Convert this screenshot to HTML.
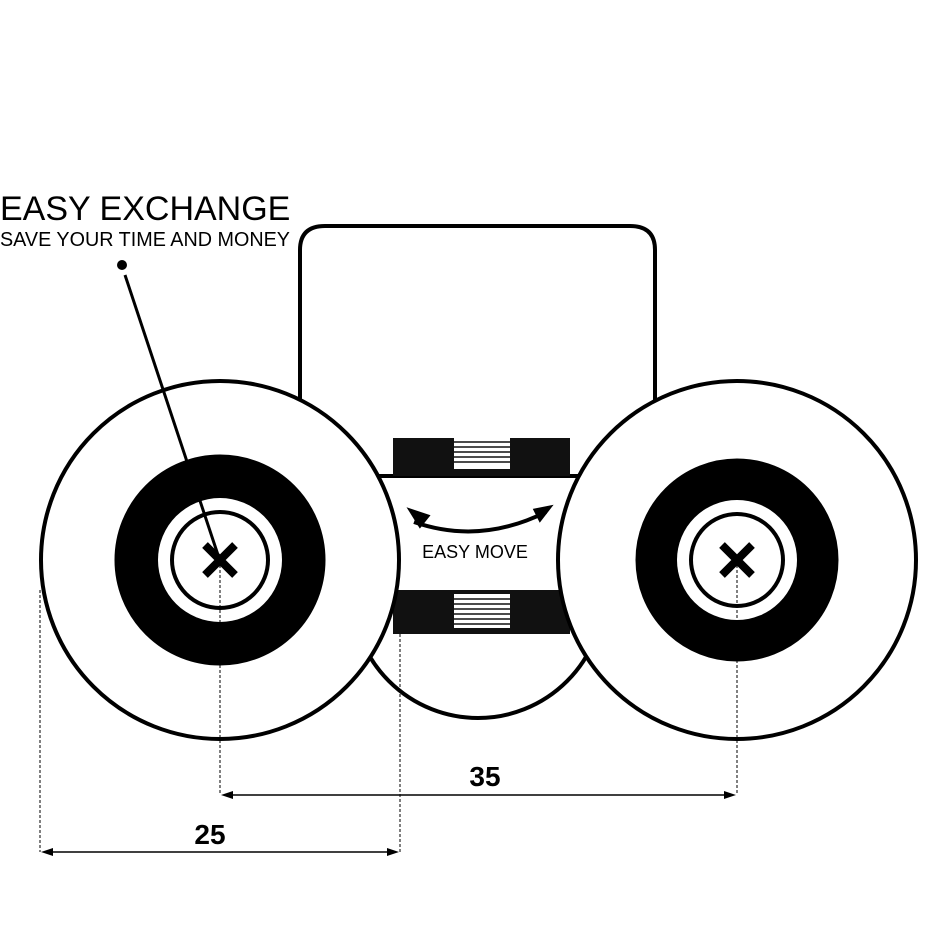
<!DOCTYPE html>
<html><head><style>body{margin:0;background:#fff}svg{display:block}</style></head><body>
<svg width="952" height="950" viewBox="0 0 952 950" xmlns="http://www.w3.org/2000/svg" font-family="Liberation Sans, sans-serif">
<rect width="952" height="950" fill="#fff"/>
<path d="M300 420 V250 Q300 226 325 226 H630 Q655 226 655 250 V420" fill="#fff" stroke="#000" stroke-width="4"/>
<path d="M352 476 H604 V592 A126 126 0 0 1 352 592 Z" fill="#fff" stroke="#000" stroke-width="4"/>
<rect x="393" y="438" width="177" height="38" fill="#111"/>
<rect x="393" y="590" width="177" height="44" fill="#111"/>
<g fill="#fff"><rect x="454" y="437" width="56" height="32"/><rect x="454" y="594" width="56" height="34"/></g>
<g stroke="#111" stroke-width="1.5">
<line x1="454" y1="442" x2="510" y2="442"/><line x1="454" y1="447" x2="510" y2="447"/><line x1="454" y1="452" x2="510" y2="452"/><line x1="454" y1="457" x2="510" y2="457"/><line x1="454" y1="462" x2="510" y2="462"/>
<line x1="454" y1="599" x2="510" y2="599"/><line x1="454" y1="604" x2="510" y2="604"/><line x1="454" y1="609" x2="510" y2="609"/><line x1="454" y1="614" x2="510" y2="614"/><line x1="454" y1="619" x2="510" y2="619"/><line x1="454" y1="624" x2="510" y2="624"/>
</g>
<path d="M414 522 Q480 545 546 512" fill="none" stroke="#000" stroke-width="4"/>
<path d="M410 510 L420 526 L428 516 Z M550 507 L540 520 L535 510 Z" fill="#000" stroke="#000" stroke-width="3"/>
<text x="475" y="558" font-size="18" text-anchor="middle">EASY MOVE</text>
<g stroke="#000">
<circle cx="220" cy="560" r="179" fill="#fff" stroke-width="4"/>
<circle cx="220" cy="560" r="105" fill="#000"/>
<circle cx="220" cy="560" r="62" fill="#fff" stroke="none"/>
<circle cx="220" cy="560" r="48" fill="none" stroke-width="4"/>
<circle cx="737" cy="560" r="179" fill="#fff" stroke-width="4"/>
<circle cx="737" cy="560" r="101" fill="#000"/>
<circle cx="737" cy="560" r="60" fill="#fff" stroke="none"/>
<circle cx="737" cy="560" r="46" fill="none" stroke-width="4"/>
<path d="M205 545 L235 575 M235 545 L205 575 M722 545 L752 575 M752 545 L722 575" stroke-width="8"/>
</g>
<circle cx="122" cy="265" r="5" fill="#000"/>
<line x1="125" y1="275" x2="218" y2="555" stroke="#000" stroke-width="3"/>
<text x="0" y="220" font-size="34">EASY EXCHANGE</text>
<text x="0" y="246" font-size="20" textLength="290" lengthAdjust="spacingAndGlyphs">SAVE YOUR TIME AND MONEY</text>
<g stroke="#000" stroke-width="1" stroke-dasharray="3,2">
<line x1="40" y1="590" x2="40" y2="852"/><line x1="220" y1="560" x2="220" y2="795"/>
<line x1="400" y1="634" x2="400" y2="852"/><line x1="737" y1="560" x2="737" y2="795"/>
</g>
<g stroke="#000" stroke-width="1.5">
<line x1="225" y1="795" x2="732" y2="795"/><line x1="45" y1="852" x2="395" y2="852"/>
</g>
<path d="M221 795 L233 791 L233 799 Z M736 795 L724 791 L724 799 Z M41 852 L53 848 L53 856 Z M399 852 L387 848 L387 856 Z" fill="#000"/>
<text x="485" y="786" font-size="28" font-weight="bold" text-anchor="middle">35</text>
<text x="210" y="844" font-size="28" font-weight="bold" text-anchor="middle">25</text>
</svg>
</body></html>
